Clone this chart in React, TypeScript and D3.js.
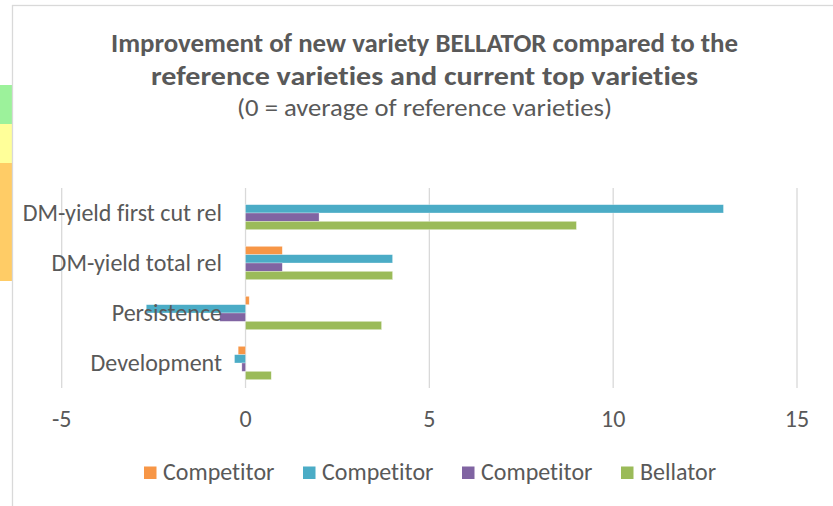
import React from 'react'
import * as d3 from 'd3'

// categories, top to bottom
const categories = ['DM-yield first cut rel', 'DM-yield total rel', 'Persistence', 'Development']
const seriesNames = ['Competitor', 'Competitor', 'Competitor', 'Bellator']
const competitorA = [0, 1, 0.1, -0.2]
const competitorB = [13, 4, -2.7, -0.3]
const competitorC = [2, 1, -0.7, -0.1]
const bellator = [9, 4, 3.7, 0.7]
const xTicks = [-5, 0, 5, 10, 15]
const titleLines = [
  'Improvement of new variety BELLATOR compared to the',
  'reference varieties and current top varieties'
]
const subtitle = '(0 = average of reference varieties)'

const colors = ['#F79646', '#4BACC6', '#8064A2', '#9BBB59']
const font = 'Calibri, Carlito, Lato, sans-serif'
const textColor = '#595959'

export default function App() {
  const width = 833
  const height = 506
  const series = [competitorA, competitorB, competitorC, bellator]

  const x = d3.scaleLinear().domain([-5, 15]).range([61.7, 797])
  const y = d3.scaleBand<string>().domain(categories).range([188, 388])
  const inner = d3
    .scaleBand<number>()
    .domain(d3.range(series.length))
    .range([0, y.bandwidth()])
    .paddingInner(0)
    .paddingOuter(1)

  // legend layout
  const legendX = [144, 303, 462, 621]
  const titleWidths = [627, 547]

  return (
    <div style={{ position: 'absolute', left: 0, top: 0 }}>
      <svg
        width={width}
        height={height}
        style={{ display: 'block', background: '#fff', fontVariantLigatures: 'none' }}
      >
        {/* side strips */}
        <rect x={0} y={85} width={12} height={39} fill="#9CF29B" />
        <rect x={0} y={124} width={12} height={39} fill="#FFFF99" />
        <rect x={0} y={163} width={12} height={118} fill="#FFCC66" />

        {/* chart border */}
        <rect x={12.5} y={5.5} width={830} height={520} fill="#fff" stroke="#d9d9d9" strokeWidth={1.3} />

        {/* title */}
        <g fontFamily={font} fill={textColor} textAnchor="middle">
          {titleLines.map((t, i) => (
            <text
              key={i}
              x={424.5}
              y={52 + i * 32.5}
              fontSize={26}
              fontWeight="bold"
              textLength={titleWidths[i]}
              lengthAdjust="spacingAndGlyphs"
            >
              {t}
            </text>
          ))}
          <text x={424.5} y={116} fontSize={25} textLength={375} lengthAdjust="spacingAndGlyphs">
            {subtitle}
          </text>
        </g>

        {/* gridlines */}
        {xTicks.map(t => (
          <line key={t} x1={x(t)} x2={x(t)} y1={188} y2={388} stroke="#d9d9d9" strokeWidth={1.3} />
        ))}

        {/* bars */}
        {series.map((vals, si) =>
          vals.map((v, ci) =>
            v === 0 ? null : (
              <rect
                key={si + '-' + ci}
                x={Math.min(x(0), x(v))}
                y={(y(categories[ci]) as number) + (inner(si) as number)}
                width={Math.abs(x(v) - x(0))}
                height={inner.bandwidth()}
                fill={colors[si]}
                stroke="#ffffff"
                strokeOpacity={0.5}
                strokeWidth={0.6}
              />
            )
          )
        )}

        {/* category labels */}
        <g fontFamily={font} fill={textColor} fontSize={24} textAnchor="end">
          {categories.map(c => (
            <text key={c} x={222} y={(y(c) as number) + y.bandwidth() / 2 + 7.5}>
              {c}
            </text>
          ))}
        </g>

        {/* tick labels */}
        <g fontFamily={font} fill={textColor} fontSize={24} textAnchor="middle">
          {xTicks.map(t => (
            <text key={t} x={x(t)} y={427}>
              {t}
            </text>
          ))}
        </g>

        {/* legend */}
        <g fontFamily={font} fill={textColor} fontSize={24}>
          {seriesNames.map((n, i) => (
            <g key={i}>
              <rect x={legendX[i]} y={466.5} width={12.5} height={12.5} fill={colors[i]} />
              <text x={legendX[i] + 19} y={479.5}>
                {n}
              </text>
            </g>
          ))}
        </g>
      </svg>
    </div>
  )
}
